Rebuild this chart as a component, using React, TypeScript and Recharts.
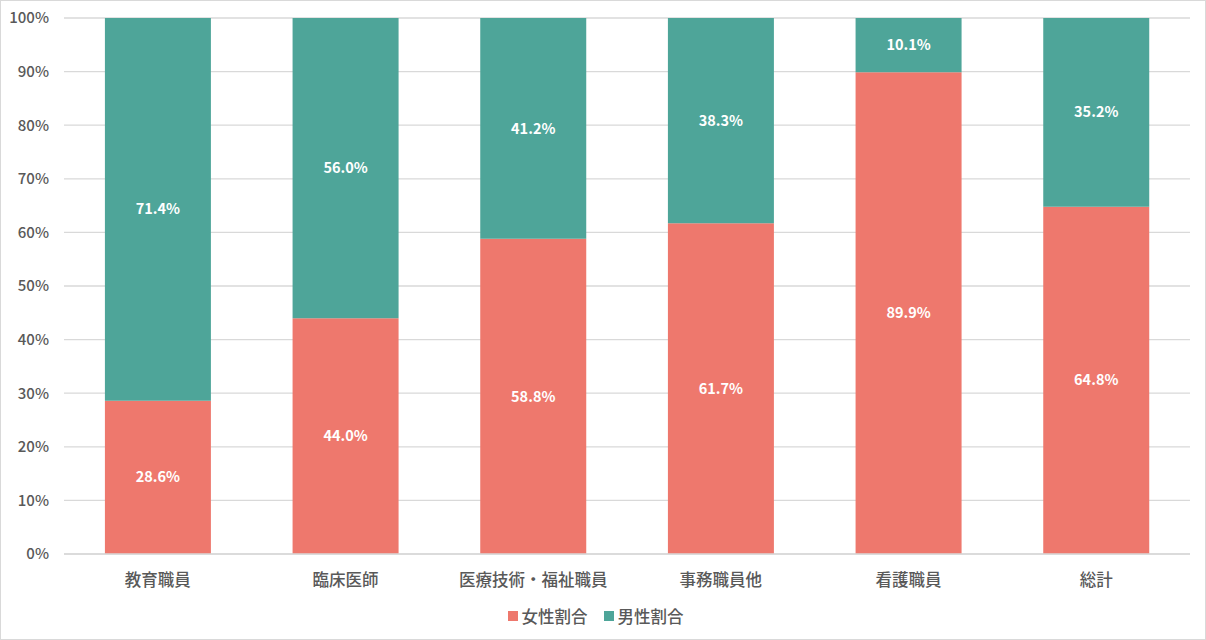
import { BarChart, Bar, XAxis, YAxis, CartesianGrid, Legend, LabelList } from "recharts";

const categories = ["教育職員", "臨床医師", "医療技術・福祉職員", "事務職員他", "看護職員", "総計"];
const femaleShare = [28.6, 44.0, 58.8, 61.7, 89.9, 64.8];
const maleShare = [71.4, 56.0, 41.2, 38.3, 10.1, 35.2];
const yTicks = [0, 10, 20, 30, 40, 50, 60, 70, 80, 90, 100];

const FEMALE = "#EE786D";
const MALE = "#4EA599";
const TEXT = "#595959";
const FONT = "'Noto Sans CJK JP', 'Noto Sans', sans-serif";

const data = categories.map((name, i) => ({
  name,
  female: femaleShare[i],
  male: maleShare[i],
}));

const pct = (v: unknown) => `${Number(v).toFixed(1)}%`;

function LegendContent() {
  const items = [
    { label: "女性割合", color: FEMALE },
    { label: "男性割合", color: MALE },
  ];
  return (
    <div style={{ display: "flex", justifyContent: "center", gap: 16, fontFamily: FONT, fontSize: 16.5, fontWeight: 500, color: TEXT }}>
      {items.map((it) => (
        <div key={it.label} style={{ display: "flex", alignItems: "center", gap: 4 }}>
          <span style={{ width: 10, height: 10, background: it.color, display: "inline-block" }} />
          <span>{it.label}</span>
        </div>
      ))}
    </div>
  );
}

export default function App() {
  return (
    <div
      style={{
        position: "absolute",
        left: 0,
        top: 0,
        width: 1206,
        height: 640,
        boxSizing: "border-box",
        border: "1px solid #d9d9d9",
        background: "#fff",
        fontFamily: FONT,
      }}
    >
      <BarChart
        width={1204}
        height={638}
        data={data}
        margin={{ top: 17, right: 15, bottom: 31, left: 0 }}
        barCategoryGap="21.8%"
      >
        <CartesianGrid vertical={false} stroke="#d9d9d9" strokeWidth={1.3} />
        <XAxis
          dataKey="name"
          tickLine={false}
          axisLine={{ stroke: "#d9d9d9", strokeWidth: 1.3 }}
          tick={{ fill: TEXT, fontSize: 16.5, fontWeight: 500, fontFamily: FONT }}
          tickMargin={14}
          interval={0}
        />
        <YAxis
          width={63}
          domain={[0, 100]}
          ticks={yTicks}
          tickFormatter={(v) => `${v}%`}
          axisLine={false}
          tickLine={false}
          tickSize={0}
          tickMargin={15}
          tick={{ fill: TEXT, fontSize: 15, fontWeight: 500, fontFamily: FONT }}
        />
        <Legend verticalAlign="bottom" wrapperStyle={{ bottom: 11 }} content={<LegendContent />} />
        <Bar dataKey="female" stackId="a" fill={FEMALE} isAnimationActive={false}>
          <LabelList dataKey="female" position="center" formatter={pct} fill="#fff" fontSize={14.5} fontWeight={700} fontFamily={FONT} />
        </Bar>
        <Bar dataKey="male" stackId="a" fill={MALE} isAnimationActive={false}>
          <LabelList dataKey="male" position="center" formatter={pct} fill="#fff" fontSize={14.5} fontWeight={700} fontFamily={FONT} />
        </Bar>
      </BarChart>
    </div>
  );
}
